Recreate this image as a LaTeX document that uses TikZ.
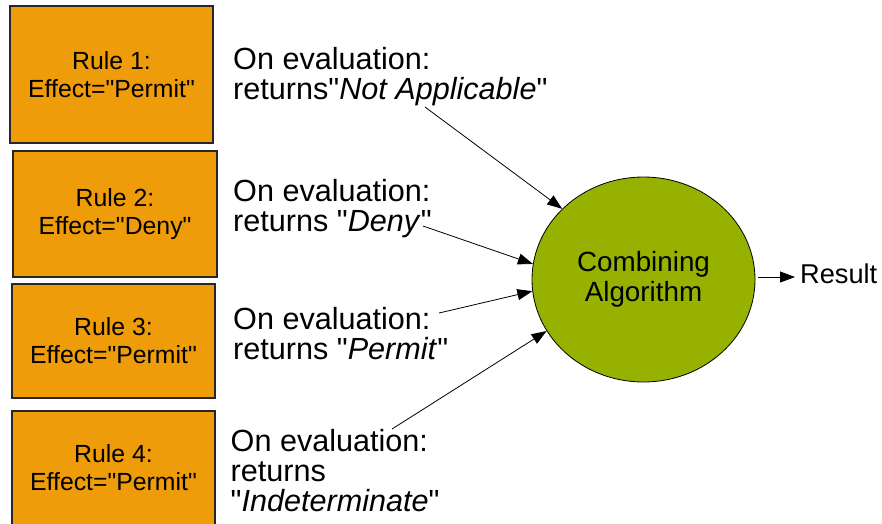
\documentclass[tikz,border=0pt]{standalone}
\usepackage{fontspec}
% no TeX mapping, so that " stays a straight double quote
\setmainfont{Liberation Sans}[Ligatures=TeXOff]
\usetikzlibrary{arrows.meta,shapes.geometric}
\definecolor{ruleorange}{RGB}{238,156,10}
\definecolor{algogreen}{RGB}{151,177,0}
\newcommand{\dq}{\char34\relax}
\begin{document}
\begin{tikzpicture}[x=1pt,y=-1pt,
  rulebox/.style={draw=black!85, line width=1.2pt, fill=ruleorange, align=center,
    inner sep=0pt, font=\fontsize{24.8}{28}\selectfont},
  outcome/.style={anchor=north west, align=left, inner sep=0pt,
    font=\fontsize{30.6}{29.7}\selectfont},
  feed/.style={draw, line width=0.8pt, -{Triangle[length=15pt,width=11pt]}},
]
\useasboundingbox (0,0) rectangle (882,523);
\clip (0,0) rectangle (882,523);

% the four rules
\node[rulebox, minimum width=203pt, minimum height=137pt] (r1) at (111.5,74.5)
  {Rule 1:\\Effect=\dq Permit\dq};
\node[rulebox, minimum width=204pt, minimum height=126pt] (r2) at (115,214)
  {Rule 2:\\Effect=\dq Deny\dq};
\node[rulebox, minimum width=203pt, minimum height=114pt] (r3) at (113.5,341)
  {Rule 3:\\Effect=\dq Permit\dq};
\node[rulebox, minimum width=203pt, minimum height=114pt] (r4) at (113.5,468)
  {Rule 4:\\Effect=\dq Permit\dq};

% what each rule returns
\node[outcome] (o1) at (233,47) {On evaluation:\\returns\dq\textit{Not Applicable}\dq};
\node[outcome] (o2) at (233,179.5) {On evaluation:\\returns \dq\textit{Deny}\dq};
\node[outcome] (o3) at (233,307) {On evaluation:\\returns \dq\textit{Permit}\dq};
\node[outcome] (o4) at (230.5,429.5) {On evaluation:\\returns\\\dq\textit{Indeterminate}\dq};

% combining algorithm and its output
\node[ellipse, draw, line width=0.8pt, fill=algogreen, minimum width=223pt,
  minimum height=205pt, inner sep=0pt, align=center,
  font=\fontsize{27.8}{30.6}\selectfont] (alg) at (643.5,279.5)
  {Combining\\Algorithm};
\node[anchor=west, inner xsep=5pt, inner ysep=0pt, text height=19pt, text depth=7pt,
  font=\fontsize{27.2}{30}\selectfont] (res) at (795,277) {Result};

% arrows
\coordinate (s1) at (425,107);
\coordinate (s2) at (423,226);
\coordinate (s3) at (439,313);
\coordinate (s4) at (392,429);
\draw[feed] (s1) -- (alg.139.4);
\draw[feed] (s2) -- (alg.172.5);
\draw[feed] (s3) -- (alg.186.3);
\draw[feed] (s4) -- (alg.208.7);
\draw[feed, shorten <=3pt] (res.west -| alg.east) -- (res.west);
\end{tikzpicture}
\end{document}
